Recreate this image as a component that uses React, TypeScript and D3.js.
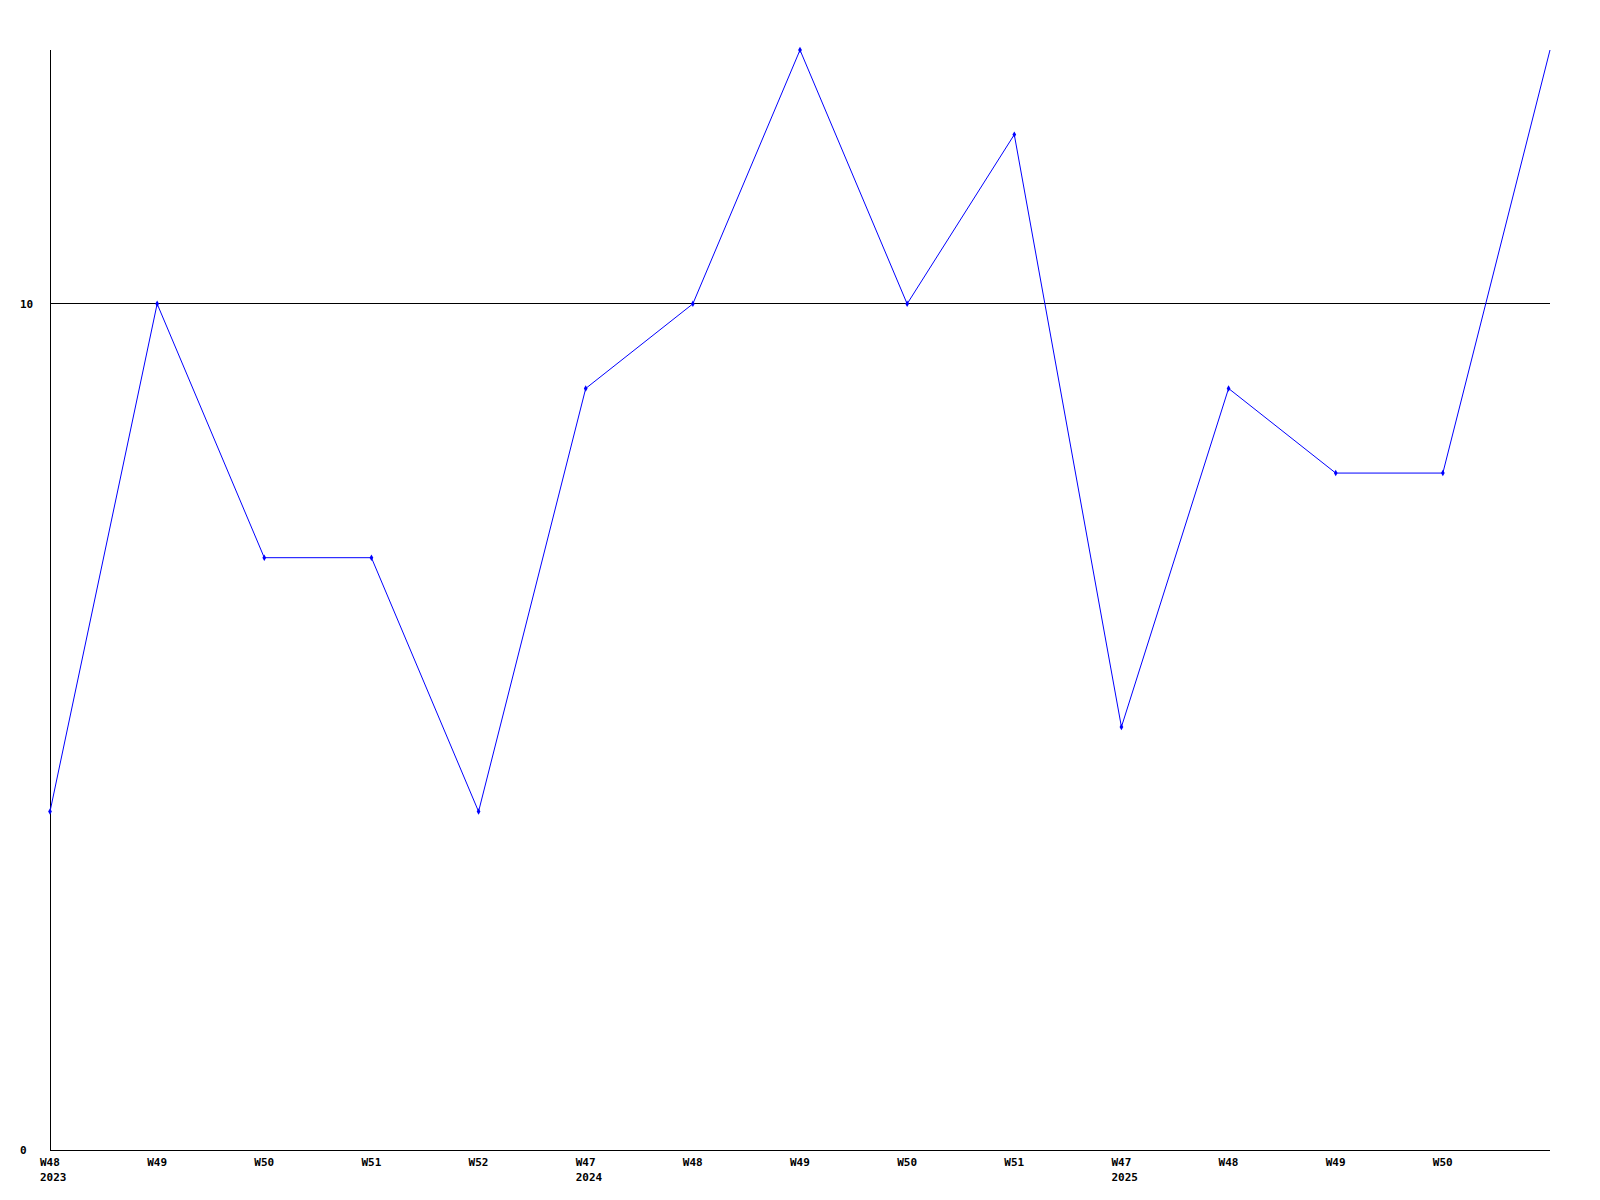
import { useEffect, useRef } from 'react'
import * as d3 from 'd3'

// week labels along the x axis (the last point has no label)
const weekLabels = ['W48', 'W49', 'W50', 'W51', 'W52', 'W47', 'W48', 'W49', 'W50', 'W51', 'W47', 'W48', 'W49', 'W50', '']
const yearLabels = ['2023', '', '', '', '', '2024', '', '', '', '', '2025', '', '', '', '']
const values = [4, 10, 7, 7, 4, 9, 10, 13, 10, 12, 5, 9, 8, 8, 13]
const yTicks = [0, 10]

const W = 1600
const H = 1200

const App = () => {
  const ref = useRef<SVGSVGElement>(null)

  useEffect(() => {
    const svg = d3.select(ref.current)
    svg.selectAll('*').remove()

    const margin = { top: 50, right: 50, bottom: 50, left: 50 }
    const x = d3.scaleLinear().domain([0, values.length - 1]).range([margin.left, W - margin.right])
    const y = d3.scaleLinear().domain([0, 13]).range([H - margin.bottom, margin.top])

    const font = '"DejaVu Sans Mono", monospace'

    // gridline at 10
    svg
      .selectAll('line.grid')
      .data(yTicks.filter((d) => d > 0))
      .join('line')
      .attr('x1', margin.left)
      .attr('x2', W - margin.right)
      .attr('y1', (d) => Math.floor(y(d)) + 0.5)
      .attr('y2', (d) => Math.floor(y(d)) + 0.5)
      .attr('stroke', '#000')
      .attr('stroke-width', 1)

    // axes
    svg
      .append('line')
      .attr('x1', margin.left + 0.5)
      .attr('x2', margin.left + 0.5)
      .attr('y1', margin.top)
      .attr('y2', H - margin.bottom)
      .attr('stroke', '#000')
    svg
      .append('line')
      .attr('x1', margin.left)
      .attr('x2', W - margin.right)
      .attr('y1', H - margin.bottom + 0.5)
      .attr('y2', H - margin.bottom + 0.5)
      .attr('stroke', '#000')

    // y labels
    svg
      .selectAll('text.ylab')
      .data(yTicks)
      .join('text')
      .attr('x', 20)
      .attr('y', (d) => y(d))
      .attr('dy', '0.35em')
      .attr('font-family', font)
      .attr('font-weight', 'bold')
      .attr('font-size', 11)
      .text((d) => d.toString())

    // x labels
    svg
      .selectAll('text.xlab')
      .data(weekLabels)
      .join('text')
      .attr('x', (_, i) => x(i) - 10)
      .attr('y', H - margin.bottom + 12)
      .attr('dy', '0.35em')
      .attr('font-family', font)
      .attr('font-weight', 'bold')
      .attr('font-size', 11)
      .text((d) => d)

    svg
      .selectAll('text.year')
      .data(yearLabels)
      .join('text')
      .attr('x', (_, i) => x(i) - 10)
      .attr('y', H - margin.bottom + 27)
      .attr('dy', '0.35em')
      .attr('font-family', font)
      .attr('font-weight', 'bold')
      .attr('font-size', 11)
      .text((d) => d)

    // line
    const line = d3
      .line<number>()
      .x((_, i) => x(i))
      .y((d) => y(d))

    svg
      .append('path')
      .datum(values)
      .attr('d', line)
      .attr('fill', 'none')
      .attr('stroke', '#0000ff')
      .attr('stroke-width', 1)

    // markers (the final point has none)
    svg
      .selectAll('path.marker')
      .data(values.slice(0, -1))
      .join('path')
      .attr('d', d3.symbol(d3.symbolDiamond, 12)())
      .attr('transform', (d, i) => `translate(${x(i)},${y(d)})`)
      .attr('fill', '#0000ff')
  }, [])

  return (
    <svg
      ref={ref}
      width={W}
      height={H}
      style={{ position: 'absolute', left: 0, top: 0, background: '#fff' }}
    />
  )
}

export default App
